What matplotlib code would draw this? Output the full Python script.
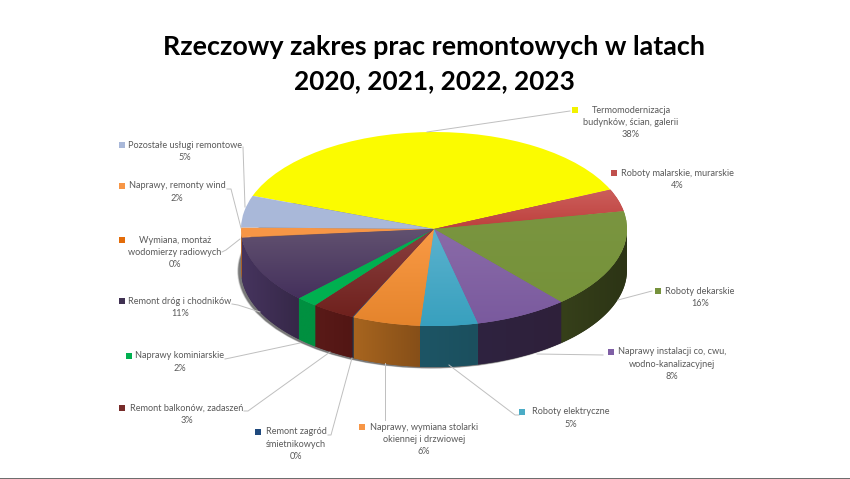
import numpy as np
import matplotlib
matplotlib.use('Agg')
import matplotlib.pyplot as plt
from matplotlib.patches import Ellipse, Polygon, Rectangle

# categories with the percent printed on the chart
categories = ['Termomodernizacja\nbudynków, ścian, galerii', 'Roboty malarskie, murarskie', 'Roboty dekarskie',
              'Naprawy instalacji co, cwu,\nwodno-kanalizacyjnej', 'Roboty elektryczne',
              'Naprawy, wymiana stolarki\nokiennej i drzwiowej', 'Remont zagród\nśmietnikowych',
              'Remont balkonów, zadaszeń', 'Naprawy kominiarskie', 'Remont dróg i chodników',
              'Wymiana, montaż\nwodomierzy radiowych', 'Naprawy, remonty wind', 'Pozostałe usługi remontowe']
percent_labels = ['38%', '4%', '16%', '8%', '5%', '6%', '0%', '3%', '2%', '11%', '0%', '2%', '5%']
# values
values = [37.8, 3.7, 16.5, 7.8, 4.8, 5.7, 0.1, 3.6, 1.8, 11.2, 0.1, 1.6, 5.3]

top_colors = ['#FBFB00', '#C0423F', '#76923A', '#7F5CA3', '#41A9C8', '#F79440', '#1F497D',
              '#77241F', '#00B050', '#4A3560', '#E46C0A', '#F79646', '#A9B8D9']
top_light = ['#FBFB00', '#CC5F5C', '#7A9540', '#8A6BA8', '#5BB2CE', '#F99A45', '#1F497D',
             '#8A4040', '#00B050', '#625270', '#E46C0A', '#F79646', '#A9B8D9']
top_dark = ['#FBFB00', '#BD3F3C', '#76923A', '#7A5A9E', '#38A0BE', '#E5842C', '#1F497D',
            '#6F211D', '#00B050', '#44305C', '#E46C0A', '#F79646', '#A9B8D9']
side_left = ['#8A8A00', '#7A2A28', '#36401A', '#2F2340', '#1D5565', '#A8651F', '#12304F',
             '#5A1A18', '#009040', '#46345E', '#D07020', '#B06020', '#6F7A90']
side_right = ['#8A8A00', '#7A2A28', '#2C3415', '#2E203A', '#1B4F5E', '#864F18', '#12304F',
              '#521614', '#009040', '#362848', '#D07020', '#B06020', '#6F7A90']
marker_colors = ['#F2F200', '#C0504D', '#76923C', '#7F5FA5', '#4BACC6', '#F79646', '#1F497D',
                 '#772C2A', '#00B050', '#403152', '#E36C09', '#F79646', '#A9B8D9']

# pixel layout of the label blocks: marker x, marker y, text centre x
label_pos = [(575, 110, 631), (614, 173, 677), (658, 291, 700), (611, 352, 672), (522, 412, 571),
             (362, 427, 424), (258, 432, 296), (122, 408, 187), (129, 356, 180), (122, 301, 180),
             (122, 240, 175), (122, 186, 177), (122, 145, 185)]
leaders = [[(427, 132), (570, 111)], [], [(618, 300), (652, 291)], [(537, 354), (603, 355)],
           [(449, 365), (515, 415), (519, 415)], [(385, 363), (385, 420)], [(352, 358), (331, 435), (328, 435)],
           [(330, 352), (248, 411), (244, 411)], [(300, 343), (230, 358), (225, 359)],
           [(260, 312), (238, 305), (232, 304)], [(240, 239), (226, 250), (222, 252)],
           [(241, 228), (231, 189), (227, 189)], [(245, 207), (243, 147)]]

W, H = 850, 479
CX, CY, RX, RY, DEPTH = 434, 229, 193, 97, 41
TEXT = '#595959'

fig = plt.figure(figsize=(W / 100, H / 100), dpi=100, facecolor='white')
plt.rcParams['font.family'] = 'Lato'
ax = fig.add_axes([0, 0, 1, 1])


def gradient(patch, c1, c2, extent, vertical=True):
    # c1 -> c2 along the patch, drawn with imshow and clipped to it
    a = np.array(matplotlib.colors.to_rgb(c1))
    b = np.array(matplotlib.colors.to_rgb(c2))
    t = np.linspace(0, 1, 64)[:, None]
    img = a * (1 - t) + b * t
    img = img[:, None, :] if vertical else img[None, :, :]
    im = ax.imshow(img, extent=extent, aspect='auto', origin='upper', zorder=patch.get_zorder(),
                   interpolation='bilinear')
    im.set_clip_path(patch)


wedges, _ = ax.pie(values, colors=top_colors, startangle=160, counterclock=False, radius=1, center=(0, 0))
ax.set_aspect('auto')
depth = DEPTH / RY

# shadow under the pie, mostly on the left
for grow, alpha in [(1.006, 0.15), (1.003, 0.25), (1.0, 0.45)]:
    ax.add_patch(Ellipse((-0.014, -depth - 0.012), 2 * grow, 2 * grow, color='#333333', alpha=alpha, lw=0, zorder=1))

# side walls, only the front half of each slice shows
for i, w in enumerate(wedges):
    a1 = max(w.theta1, -180)
    a2 = min(w.theta2, 0)
    if a2 <= a1:
        continue
    t = np.radians(np.linspace(a1, a2, 40))
    top = np.column_stack([np.cos(t), np.sin(t)])
    bottom = top[::-1] - [0, depth]
    side = Polygon(np.vstack([top, bottom]), closed=True, fc=side_right[i], ec='none', zorder=2)
    ax.add_patch(side)
    gradient(side, side_left[i], side_right[i], (top[:, 0].min(), top[:, 0].max(), -1 - depth, 0), vertical=False)

# top of the pie with a soft vertical shade
for i, w in enumerate(wedges):
    w.set_zorder(3)
    w.set_linewidth(0)
    w.set_edgecolor('none')
    if top_light[i] != top_dark[i]:
        t = np.radians(np.linspace(w.theta1, w.theta2, 40))
        low = min(0, np.sin(t).min()) - 0.01
        high = max(0, np.sin(t).max()) + 0.01
        left = min(0, np.cos(t).min()) - 0.01
        right = max(0, np.cos(t).max()) + 0.01
        gradient(w, top_light[i], top_dark[i], (left, right, low, high))

ax.set_xlim(-CX / RX, (W - CX) / RX)
ax.set_ylim((CY - H) / RY, CY / RY)
ax.set_axis_off()

# overlay in pixel coordinates for the labels
ov = fig.add_axes([0, 0, 1, 1], facecolor='none')
ov.set_xlim(0, W)
ov.set_ylim(H, 0)
ov.set_axis_off()

ov.text(434, 47, 'Rzeczowy zakres prac remontowych w latach', ha='center', va='center',
        fontsize=19.4, fontweight='bold', color='black')
ov.text(434.5, 81, '2020, 2021, 2022, 2023', ha='center', va='center',
        fontsize=18.9, fontweight='bold', color='black')

for line in leaders:
    if line:
        ov.plot([p[0] for p in line], [p[1] for p in line], color='#BFBFBF', lw=0.7, zorder=1)

for name, pct, col, (mx, my, tx) in zip(categories, percent_labels, marker_colors, label_pos):
    ov.add_patch(Rectangle((mx - 3, my - 3), 6, 6, fc=col, ec='none'))
    rows = name.split('\n') + [pct]
    for k, row in enumerate(rows):
        ov.text(tx, my + k * 12.2, row, ha='center', va='center', fontsize=6.6, color=TEXT)

ov.add_patch(Rectangle((0, 477.5), W, 1.5, fc='#6E6E6E', ec='none'))

fig.savefig('out.png', dpi=100, facecolor='white')
